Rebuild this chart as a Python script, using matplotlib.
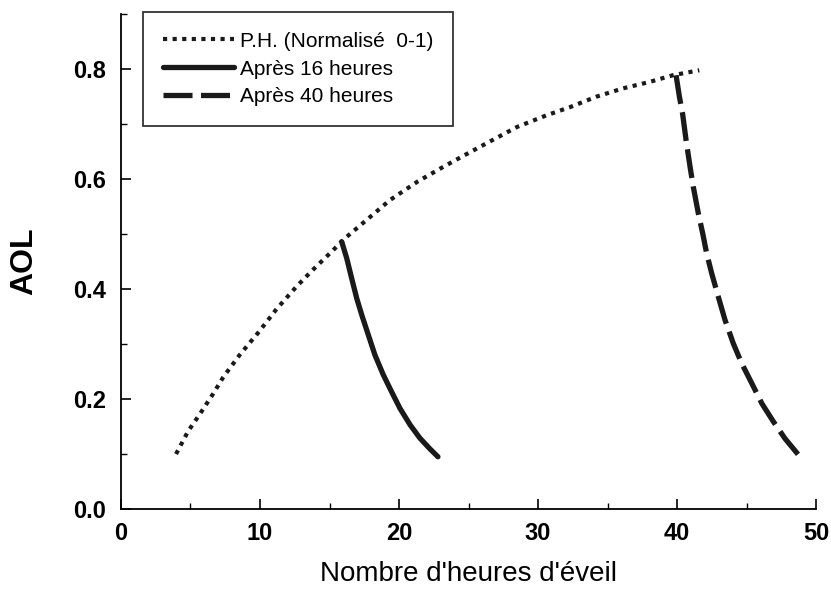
import matplotlib.pyplot as plt
from matplotlib.ticker import MultipleLocator

plt.rcParams['font.family'] = ['Liberation Sans', 'DejaVu Sans']

# ========== données ==========
ph_x = [3.96, 4.84, 5.63, 6.64, 7.36, 8.56, 9.88, 11.2, 12.64, 13.72, 15.27, 16.0,
        17.4, 19.35, 21.3, 22.95, 24.6, 26.5, 28.5, 30.6, 32.3, 34.2, 36.1, 38.05,
        39.7, 41.6]
ph_y = [0.10, 0.142, 0.171, 0.21, 0.24, 0.281, 0.321, 0.364, 0.405, 0.433, 0.471, 0.49,
        0.52, 0.562, 0.595, 0.619, 0.642, 0.668, 0.695, 0.716, 0.731, 0.75, 0.765, 0.777,
        0.789, 0.798]

h16_x = [15.88, 16.24, 16.6, 16.96, 17.32, 17.8, 18.27, 18.87, 19.47, 20.07, 20.8,
         21.5, 22.2, 22.8]
h16_y = [0.486, 0.456, 0.419, 0.383, 0.353, 0.316, 0.28, 0.244, 0.213, 0.183, 0.153,
         0.129, 0.11, 0.095]

h40_x = [39.93, 40.17, 40.4, 40.65, 40.94, 41.17, 41.53, 41.85, 42.13, 42.5, 42.97,
         43.45, 44.05, 44.65, 45.37, 46.1, 46.93, 47.77, 48.85]
h40_y = [0.789, 0.75, 0.719, 0.671, 0.622, 0.586, 0.538, 0.501, 0.465, 0.428, 0.386,
         0.344, 0.301, 0.265, 0.229, 0.192, 0.159, 0.128, 0.095]

y_ticks = [0.0, 0.2, 0.4, 0.6, 0.8]
y_labels = ['0.0', '0.2', '0.4', '0.6', '0.8']

fig = plt.figure(figsize=(8.31, 5.92), dpi=100)
ax = fig.add_axes([0.1456, 0.1402, 0.8364, 0.8358])

ax.plot(ph_x, ph_y, color='#1a1a1a', lw=3.0, linestyle=(0, (1.0, 1.3)),
        label='P.H. (Normalisé  0-1)')
ax.plot(h16_x, h16_y, color='#1a1a1a', lw=3.8, solid_capstyle='round',
        label='Après 16 heures')
ax.plot(h40_x, h40_y, color='#1a1a1a', lw=3.8, linestyle=(0, (5.5, 1.6)),
        label='Après 40 heures')

ax.set_xlim(0, 50)
ax.set_ylim(0, 0.9)
ax.xaxis.set_major_locator(MultipleLocator(10))
ax.xaxis.set_minor_locator(MultipleLocator(5))
ax.yaxis.set_minor_locator(MultipleLocator(0.1))
ax.set_yticks(y_ticks)
ax.set_yticklabels(y_labels)

for s in ['top', 'right']:
    ax.spines[s].set_visible(False)
for s in ['left', 'bottom']:
    ax.spines[s].set_linewidth(1.3)

ax.tick_params(which='major', direction='in', length=7, width=1.2, labelsize=17)
ax.tick_params(axis='x', which='major', pad=9)
ax.tick_params(axis='y', which='major', pad=11)
ax.tick_params(which='minor', direction='in', length=4, width=1.0)
for lab in ax.get_xticklabels() + ax.get_yticklabels():
    lab.set_fontweight('bold')

ax.set_xlabel("Nombre d'heures d'éveil", fontsize=20, labelpad=12)
ax.set_ylabel('AOL', fontsize=23, fontweight='bold', labelpad=24)

leg = ax.legend(loc='upper left', bbox_to_anchor=(143 / 831, 1 - 12 / 592),
                bbox_transform=fig.transFigure, borderaxespad=0, fontsize=15,
                frameon=True, fancybox=False, edgecolor='black', handlelength=3.4,
                handletextpad=0.3, labelspacing=0.42, borderpad=0.95)
leg.get_frame().set_linewidth(1.3)

plt.savefig('out.png', dpi=100)
